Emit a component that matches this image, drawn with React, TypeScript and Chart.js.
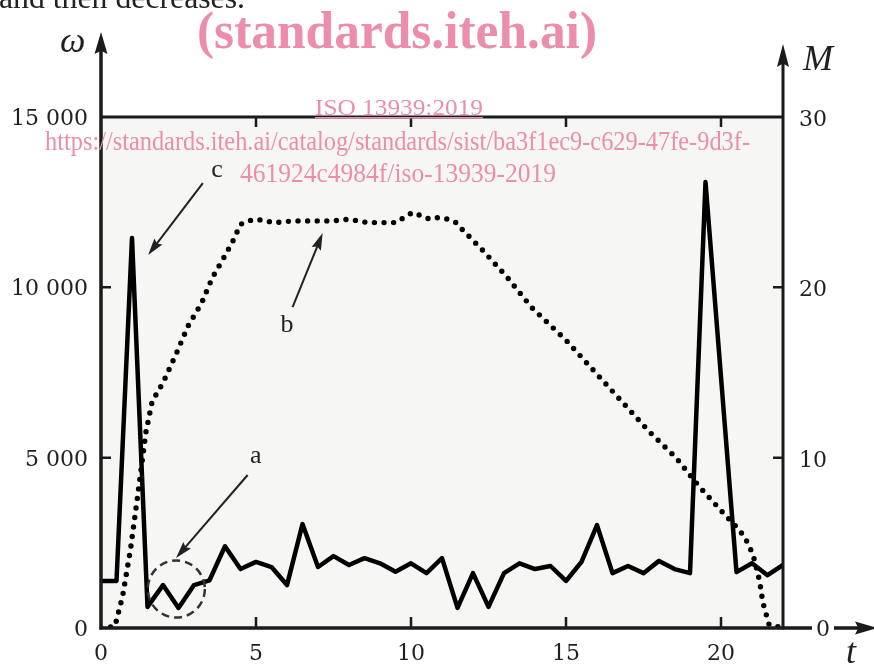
import React, { useEffect, useRef } from 'react';
import { Chart, registerables } from 'chart.js';

Chart.register(...registerables);

// ---- data ----
const omegaT = [0, 0.5, 1, 1.5, 2, 2.5, 3, 3.5, 4, 4.5, 5, 5.5, 6, 6.5, 7, 7.5, 8, 8.5, 9, 9.5, 10, 10.5, 11, 11.5, 12, 12.5, 13, 13.5, 14, 14.5, 15, 15.5, 16, 16.5, 17, 17.5, 18, 18.5, 19, 19.5, 20.5, 21, 21.5, 22];
const omegaValues = [1380, 1380, 11450, 620, 1260, 590, 1260, 1400, 2400, 1730, 1940, 1790, 1260, 3050, 1790, 2110, 1850, 2050, 1900, 1650, 1900, 1610, 2050, 590, 1610, 620, 1610, 1900, 1730, 1820, 1380, 1940, 3020, 1610, 1820, 1610, 1970, 1730, 1610, 13090, 1640, 1900, 1550, 1850];

const torqueT = [0, 0.45, 0.7, 0.95, 1.2, 1.45, 1.65, 2.0, 2.45, 2.8, 3.25, 3.6, 3.95, 4.25, 4.5, 4.75, 5.0, 5.6, 6.2, 6.8, 7.45, 8.0, 8.6, 9.2, 9.5, 10.05, 10.6, 10.9, 11.2, 11.45, 11.65, 12.3, 13.1, 13.9, 15.0, 15.8, 16.4, 17.7, 18.55, 19.3, 20.15, 20.6, 20.9, 21.1, 21.25, 21.35, 21.55, 22];
const torqueValues = [0, 0.1, 1.9, 4.6, 8.0, 11.5, 13.3, 14.4, 16.2, 17.7, 19.1, 20.6, 21.7, 22.7, 23.7, 23.9, 24.0, 23.8, 23.9, 23.9, 23.9, 24.0, 23.8, 23.8, 23.8, 24.4, 24.0, 24.1, 24.0, 23.8, 23.4, 22.2, 20.6, 18.8, 16.9, 15.3, 14.1, 11.5, 10.0, 8.3, 6.6, 5.75, 4.9, 3.9, 2.7, 1.5, 0.2, 0];

const xTicks = [0, 5, 10, 15, 20];
const xTickMarks = [5, 10, 15, 20];
const yTicks = [0, 5000, 10000, 15000];
const yTickLabels = ['0', '5 000', '10 000', '15 000'];
const yTickMarks = [5000, 10000];
const y1Ticks = [0, 10, 20, 30];
const y1TickLabels = ['0', '10', '20', '30'];
const y1TickMarks = [10, 20];

// annotations (data units: t, ω)
const noteLabels = ['c', 'b', 'a'];
const noteLabelT = [3.74, 6.0, 4.99];
const noteLabelW = [13237, 8688, 4843];
const noteFromT = [3.285, 6.18, 4.73];
const noteFromW = [13061, 9421, 4491];
const noteToT = [1.52, 7.15, 2.42];
const noteToW = [10948, 11593, 2054];
const ringCenter = [2.43, 1145];
const ringRadiusT = 0.92;

const INK = '#1b1b1b';
const PINK = '#ec8dab';

function fitText(ctx: CanvasRenderingContext2D, text: string, x0: number, x1: number, y: number, font: string, color: string) {
  ctx.save();
  ctx.font = font;
  const w = ctx.measureText(text).width;
  ctx.translate(x0, y);
  ctx.scale((x1 - x0) / w, 1);
  ctx.fillStyle = color;
  ctx.textAlign = 'left';
  ctx.textBaseline = 'alphabetic';
  ctx.fillText(text, 0, 0);
  ctx.restore();
}

function arrowHead(ctx: CanvasRenderingContext2D, x1: number, y1: number, x2: number, y2: number, len: number, half: number) {
  const a = Math.atan2(y2 - y1, x2 - x1);
  const c = Math.cos(a), s = Math.sin(a);
  const bx = x2 - len * c, by = y2 - len * s;
  const nx = x2 - len * 0.85 * c, ny = y2 - len * 0.85 * s;
  ctx.beginPath();
  ctx.moveTo(x2, y2);
  ctx.lineTo(bx - half * s, by + half * c);
  ctx.lineTo(nx, ny);
  ctx.lineTo(bx + half * s, by - half * c);
  ctx.closePath();
  ctx.fill();
}

const framePlugin = {
  id: 'frame',
  beforeDatasetsDraw(chart: any) {
    const { ctx, chartArea: ca } = chart;
    ctx.save();
    ctx.fillStyle = '#f6f6f4';
    ctx.fillRect(ca.left, ca.top, ca.right - ca.left, ca.bottom - ca.top);
    ctx.restore();
  },
  afterDatasetsDraw(chart: any) {
    const { ctx, chartArea: ca, scales } = chart;
    const xs = scales.x, ys = scales.y, y1 = scales.y1;
    ctx.save();
    ctx.strokeStyle = INK;
    ctx.fillStyle = INK;
    ctx.lineCap = 'butt';

    // axes lines
    ctx.lineWidth = 3.5;
    ctx.beginPath();
    ctx.moveTo(ca.left, ca.bottom + 1.5);
    ctx.lineTo(ca.left, 50);
    ctx.stroke();
    ctx.lineWidth = 3;
    ctx.beginPath();
    ctx.moveTo(ca.right, ca.bottom + 1.5);
    ctx.lineTo(ca.right, 63);
    ctx.stroke();
    ctx.beginPath();
    ctx.moveTo(ca.left, ca.top);
    ctx.lineTo(ca.right, ca.top);
    ctx.stroke();
    ctx.lineWidth = 3.5;
    ctx.beginPath();
    ctx.moveTo(ca.left - 1.5, ca.bottom);
    ctx.lineTo(812, ca.bottom);
    ctx.moveTo(834, ca.bottom);
    ctx.lineTo(860, ca.bottom);
    ctx.stroke();

    // arrow heads
    arrowHead(ctx, ca.left, 100, ca.left, 32, 22, 6.5);
    arrowHead(ctx, ca.right, 100, ca.right, 44, 23, 6);
    arrowHead(ctx, 800, ca.bottom, 877, ca.bottom, 22, 6.5);

    // tick marks
    ctx.lineWidth = 2.5;
    ctx.beginPath();
    xTickMarks.forEach((v) => {
      const px = xs.getPixelForValue(v);
      ctx.moveTo(px, ca.bottom);
      ctx.lineTo(px, ca.bottom - 11);
      ctx.moveTo(px, ca.top);
      ctx.lineTo(px, ca.top + 10);
    });
    yTickMarks.forEach((v) => {
      const py = ys.getPixelForValue(v);
      ctx.moveTo(ca.left, py);
      ctx.lineTo(ca.left + 10, py);
    });
    y1TickMarks.forEach((v) => {
      const py = y1.getPixelForValue(v);
      ctx.moveTo(ca.right, py);
      ctx.lineTo(ca.right - 10, py);
    });
    ctx.stroke();

    // tick labels
    ctx.fillStyle = '#231f20';
    ctx.font = '22px "DejaVu Serif"';
    ctx.textBaseline = 'alphabetic';
    ctx.textAlign = 'center';
    xTicks.forEach((v) => {
      ctx.fillText(String(v), xs.getPixelForValue(v), 660);
    });
    ctx.textAlign = 'right';
    yTicks.forEach((v, i) => {
      ctx.fillText(yTickLabels[i], 88, ys.getPixelForValue(v) + 8);
    });
    ctx.textAlign = 'left';
    y1Ticks.forEach((v, i) => {
      if (v === 0) return;
      ctx.fillText(y1TickLabels[i], 799, y1.getPixelForValue(v) + 9);
    });
    ctx.textAlign = 'center';
    ctx.fillText(y1TickLabels[0], 823, y1.getPixelForValue(0) + 8);

    // axis titles
    ctx.font = 'italic 36px "Liberation Serif"';
    ctx.textAlign = 'left';
    ctx.fillText('ω', 60, 52);
    ctx.fillText('M', 803, 70);
    ctx.fillText('t', 846, 663);

    // annotations
    ctx.fillStyle = '#222';
    ctx.strokeStyle = '#222';
    ctx.lineWidth = 2;
    noteLabels.forEach((lab, i) => {
      const fx = xs.getPixelForValue(noteFromT[i]);
      const fy = ys.getPixelForValue(noteFromW[i]);
      const tx = xs.getPixelForValue(noteToT[i]);
      const ty = ys.getPixelForValue(noteToW[i]);
      const a = Math.atan2(ty - fy, tx - fx);
      ctx.beginPath();
      ctx.moveTo(fx, fy);
      ctx.lineTo(tx - 14 * Math.cos(a), ty - 14 * Math.sin(a));
      ctx.stroke();
      arrowHead(ctx, fx, fy, tx, ty, 17, 5);
      ctx.font = '26px "Liberation Serif"';
      ctx.textAlign = 'center';
      ctx.fillText(lab, xs.getPixelForValue(noteLabelT[i]), ys.getPixelForValue(noteLabelW[i]));
    });
    const cx = xs.getPixelForValue(ringCenter[0]);
    const cy = ys.getPixelForValue(ringCenter[1]);
    const r = xs.getPixelForValue(ringCenter[0] + ringRadiusT) - cx;
    ctx.strokeStyle = '#333';
    ctx.lineWidth = 2.5;
    ctx.setLineDash([8, 5]);
    ctx.beginPath();
    ctx.arc(cx, cy, r, 0, Math.PI * 2);
    ctx.stroke();
    ctx.setLineDash([]);

    // page text and watermark
    fitText(ctx, 'and then decreases.', -1, 245, 8, '31px "Liberation Serif"', '#222');
    fitText(ctx, '(standards.iteh.ai)', 197, 597, 48, 'bold 52px "Liberation Serif"', PINK);
    fitText(ctx, 'ISO 13939:2019', 315, 483, 115, '24px "Liberation Serif"', PINK);
    ctx.fillStyle = PINK;
    ctx.fillRect(315, 117, 168, 1.5);
    fitText(ctx, 'https://standards.iteh.ai/catalog/standards/sist/ba3f1ec9-c629-47fe-9d3f-', 45, 750, 150, '27px "Liberation Serif"', PINK);
    fitText(ctx, '461924c4984f/iso-13939-2019', 240, 556, 182, '27px "Liberation Serif"', PINK);

    ctx.restore();
  },
};

export default function App() {
  const ref = useRef<HTMLCanvasElement>(null);
  useEffect(() => {
    const canvas = ref.current;
    if (!canvas) return;
    const chart = new Chart(canvas, {
      type: 'line',
      data: {
        datasets: [
          {
            label: 'c',
            data: omegaT.map((t, i) => ({ x: t, y: omegaValues[i] })),
            yAxisID: 'y',
            borderColor: '#000',
            borderWidth: 4.5,
            borderJoinStyle: 'round',
            pointRadius: 0,
            tension: 0,
            fill: false,
          },
          {
            label: 'b',
            data: torqueT.map((t, i) => ({ x: t, y: torqueValues[i] })),
            yAxisID: 'y1',
            borderColor: '#000',
            borderWidth: 5.4,
            borderDash: [0, 9.6],
            borderCapStyle: 'round',
            pointRadius: 0,
            tension: 0,
            fill: false,
          },
        ],
      },
      options: {
        responsive: false,
        animation: false,
        layout: { padding: { left: 101, right: 91, top: 117, bottom: 36 } },
        plugins: { legend: { display: false }, tooltip: { enabled: false } },
        events: [],
        scales: {
          x: { type: 'linear', min: 0, max: 22, display: false },
          y: { type: 'linear', min: 0, max: 15000, display: false, position: 'left' },
          y1: { type: 'linear', min: 0, max: 30, display: false, position: 'right' },
        },
      } as any,
      plugins: [framePlugin],
    });
    return () => chart.destroy();
  }, []);
  return (
    <div style={{ position: 'fixed', left: 0, top: 0, width: 874, height: 664, background: '#fff' }}>
      <canvas ref={ref} width={874} height={664} style={{ width: 874, height: 664, display: 'block' }} />
    </div>
  );
}
